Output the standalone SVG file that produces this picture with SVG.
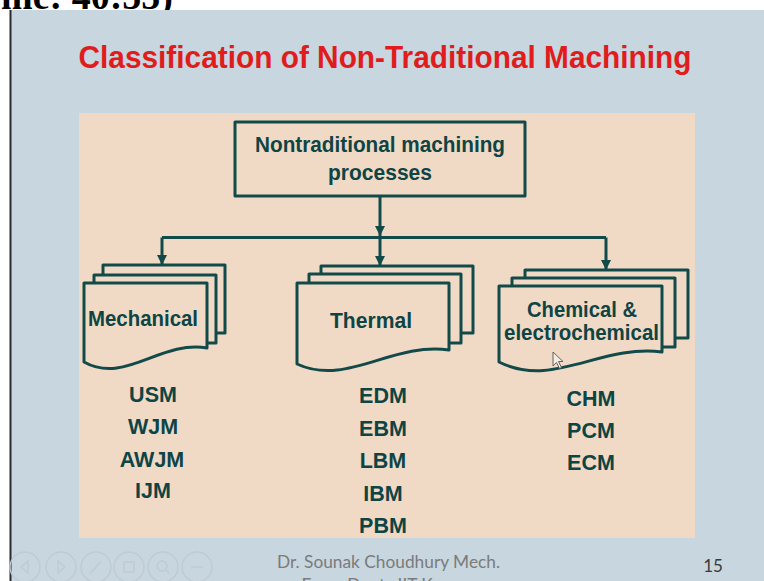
<svg xmlns="http://www.w3.org/2000/svg" width="764" height="581" viewBox="0 0 764 581">
<defs>
<style>
.box{fill:none;stroke:#124a4a;stroke-width:3;stroke-linejoin:round}
.front{fill:#f0dac6;stroke:#124a4a;stroke-width:3;stroke-linejoin:round}
.lbl{font-family:"Liberation Sans",Arial,sans-serif;font-weight:bold;font-size:22px;fill:#0f4444}
.item{font-family:"Liberation Sans",Arial,sans-serif;font-weight:bold;font-size:21.5px;fill:#0f4444;text-anchor:middle}
.conn{fill:none;stroke:#124a4a;stroke-width:3}
.nav{fill:none;stroke:#bfcbd3;stroke-width:1.4}
.foot{font-family:Lato,"Open Sans",sans-serif;font-size:17.5px;fill:#7b7b7b}
</style>
<marker id="ah" viewBox="0 0 10 14" refX="10" refY="7" markerWidth="10" markerHeight="14" markerUnits="userSpaceOnUse" orient="auto">
<path d="M0,2 L10,7 L0,12 Z" fill="#124a4a"/>
</marker>
</defs>
<rect x="0" y="0" width="764" height="581" fill="#ffffff"/>
<text x="1" y="9" font-family="Liberation Serif,serif" font-weight="bold" font-size="38" fill="#000">me: 40:55)</text>
<rect x="11" y="10" width="753" height="571" fill="#c7d6df"/>
<line x1="10.5" y1="10" x2="10.5" y2="581" stroke="#2b2b2b" stroke-width="2"/>
<text x="385" y="68" font-family="Liberation Sans,Arial,sans-serif" font-weight="bold" font-size="31" fill="#e01c1c" text-anchor="middle" textLength="613" lengthAdjust="spacingAndGlyphs">Classification of Non-Traditional Machining</text>
<rect x="79" y="113" width="616" height="425" fill="#f0dac6"/>

<g id="connectors">
<path class="conn" d="M380,197 V236" marker-end="url(#ah)"/>
<path class="conn" d="M162,237.5 H606"/>
<path class="conn" d="M162,237.5 V265" marker-end="url(#ah)"/>
<path class="conn" d="M380,237.5 V266" marker-end="url(#ah)"/>
<path class="conn" d="M606,237.5 V270" marker-end="url(#ah)"/>
</g>

<g id="root">
<rect class="box" x="235" y="122" width="290" height="74"/>
<text class="lbl" x="380" y="152" text-anchor="middle" textLength="250" lengthAdjust="spacingAndGlyphs">Nontraditional machining</text>
<text class="lbl" x="380" y="180" text-anchor="middle" textLength="104" lengthAdjust="spacingAndGlyphs">processes</text>
</g>

<g id="mechanical">
<path class="box" d="M103,275 V265 H225 V333 H216"/>
<path class="box" d="M94,283 V275 H216 V343 H207"/>
<path class="front" d="M84,283 H207 V348 C160,340 125,385 84,362 Z"/>
<text class="lbl" x="88" y="326" textLength="110" lengthAdjust="spacingAndGlyphs">Mechanical</text>
</g>

<g id="thermal">
<path class="box" d="M321,274 V266 H473 V333 H461"/>
<path class="box" d="M309,283 V274 H461 V343 H449"/>
<path class="front" d="M297,283 H449 V350 C391,342 347,387 297,364 Z"/>
<text class="lbl" x="330" y="328" textLength="82" lengthAdjust="spacingAndGlyphs">Thermal</text>
</g>

<g id="chemical">
<path class="box" d="M525,278 V270 H688 V338 H675"/>
<path class="box" d="M512,286 V278 H675 V347 H662"/>
<path class="front" d="M499,286 H662 V352 C600,344 553,389 499,362 Z"/>
<text class="lbl" x="527" y="317" textLength="110" lengthAdjust="spacingAndGlyphs">Chemical &amp;</text>
<text class="lbl" x="504" y="340" textLength="155" lengthAdjust="spacingAndGlyphs">electrochemical</text>
</g>

<path d="M553,352 L553,366 L556.5,362.5 L559.5,368.5 L561.5,367.5 L558.5,361.5 L563,361.5 Z" fill="#f4ebe2" stroke="#555" stroke-width="0.9"/>

<g id="mechanical-list">
<text class="item" x="153" y="402">USM</text>
<text class="item" x="153" y="434">WJM</text>
<text class="item" x="152" y="467">AWJM</text>
<text class="item" x="153" y="498">IJM</text>
</g>
<g id="thermal-list">
<text class="item" x="383" y="403">EDM</text>
<text class="item" x="383" y="436">EBM</text>
<text class="item" x="383" y="468">LBM</text>
<text class="item" x="383" y="501">IBM</text>
<text class="item" x="383" y="533">PBM</text>
</g>
<g id="chemical-list">
<text class="item" x="591" y="406">CHM</text>
<text class="item" x="591" y="438">PCM</text>
<text class="item" x="591" y="470">ECM</text>
</g>

<g id="nav">
<circle class="nav" cx="25" cy="567" r="15"/>
<circle class="nav" cx="61" cy="567" r="15"/>
<circle class="nav" cx="96" cy="567" r="15"/>
<circle class="nav" cx="129" cy="567" r="15"/>
<circle class="nav" cx="163" cy="567" r="15"/>
<circle class="nav" cx="197" cy="567" r="15"/>
<path class="nav" d="M28,561 L21,567 L28,573 Z"/>
<path class="nav" d="M58,561 L65,567 L58,573 Z"/>
<path class="nav" d="M90,574 L101,561"/>
<rect class="nav" x="124" y="562" width="10" height="10"/>
<circle class="nav" cx="162" cy="566" r="5"/>
<path class="nav" d="M166,570 L169,573"/>
<path class="nav" d="M191,567 H203"/>
</g>

<text class="foot" x="388.5" y="568" text-anchor="middle" textLength="223" lengthAdjust="spacingAndGlyphs">Dr. Sounak Choudhury Mech.</text>
<text class="foot" x="389" y="591" text-anchor="middle" textLength="175" lengthAdjust="spacingAndGlyphs">Engg. Dept., IIT Kanpur</text>
<text x="713" y="572" font-family="Lato,'Open Sans',sans-serif" font-size="17" fill="#3a3a3a" text-anchor="middle">15</text>
</svg>
